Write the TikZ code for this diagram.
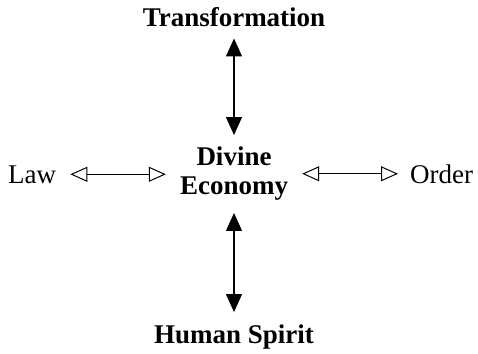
\documentclass[tikz,border=0pt]{standalone}
\usepackage{fontspec}
\setmainfont{Liberation Serif}
\usetikzlibrary{arrows.meta}
\begin{document}
\begin{tikzpicture}[x=1pt,y=-1pt,
  lbl/.style={inner sep=0pt,font=\fontsize{27}{29}\selectfont},
  blbl/.style={lbl,font=\fontsize{27}{29}\selectfont\bfseries},
  vert/.style={line width=1.2pt,{Triangle[length=18pt,width=16pt]}-{Triangle[length=18pt,width=16pt]}},
  horiz/.style={line width=1pt,{Triangle[open,length=17pt,width=15pt]}-{Triangle[open,length=17pt,width=15pt]}}]
\useasboundingbox (0,0) rectangle (478,353);
\node[blbl,anchor=base] (T) at (234,27) {Transformation};
\node[blbl,align=center] (D) at (234,174) {Divine\\Economy};
\node[lbl,anchor=base west] (L) at (8,183) {Law};
\node[lbl,anchor=base west] (O) at (410,183) {Order};
\node[blbl,anchor=base] (H) at (234,343) {Human Spirit};
\draw[vert,shorten <=11pt,shorten >=12pt] (T) -- (D);
\draw[vert,shorten <=12pt,shorten >=12pt] (D) -- (H);
\draw[horiz,shorten <=14pt,shorten >=14pt] (L.east) -- (D.west |- L.east);
\draw[horiz,shorten <=14pt,shorten >=12pt] (D.east |- O.west) -- (O.west);
\end{tikzpicture}
\end{document}
